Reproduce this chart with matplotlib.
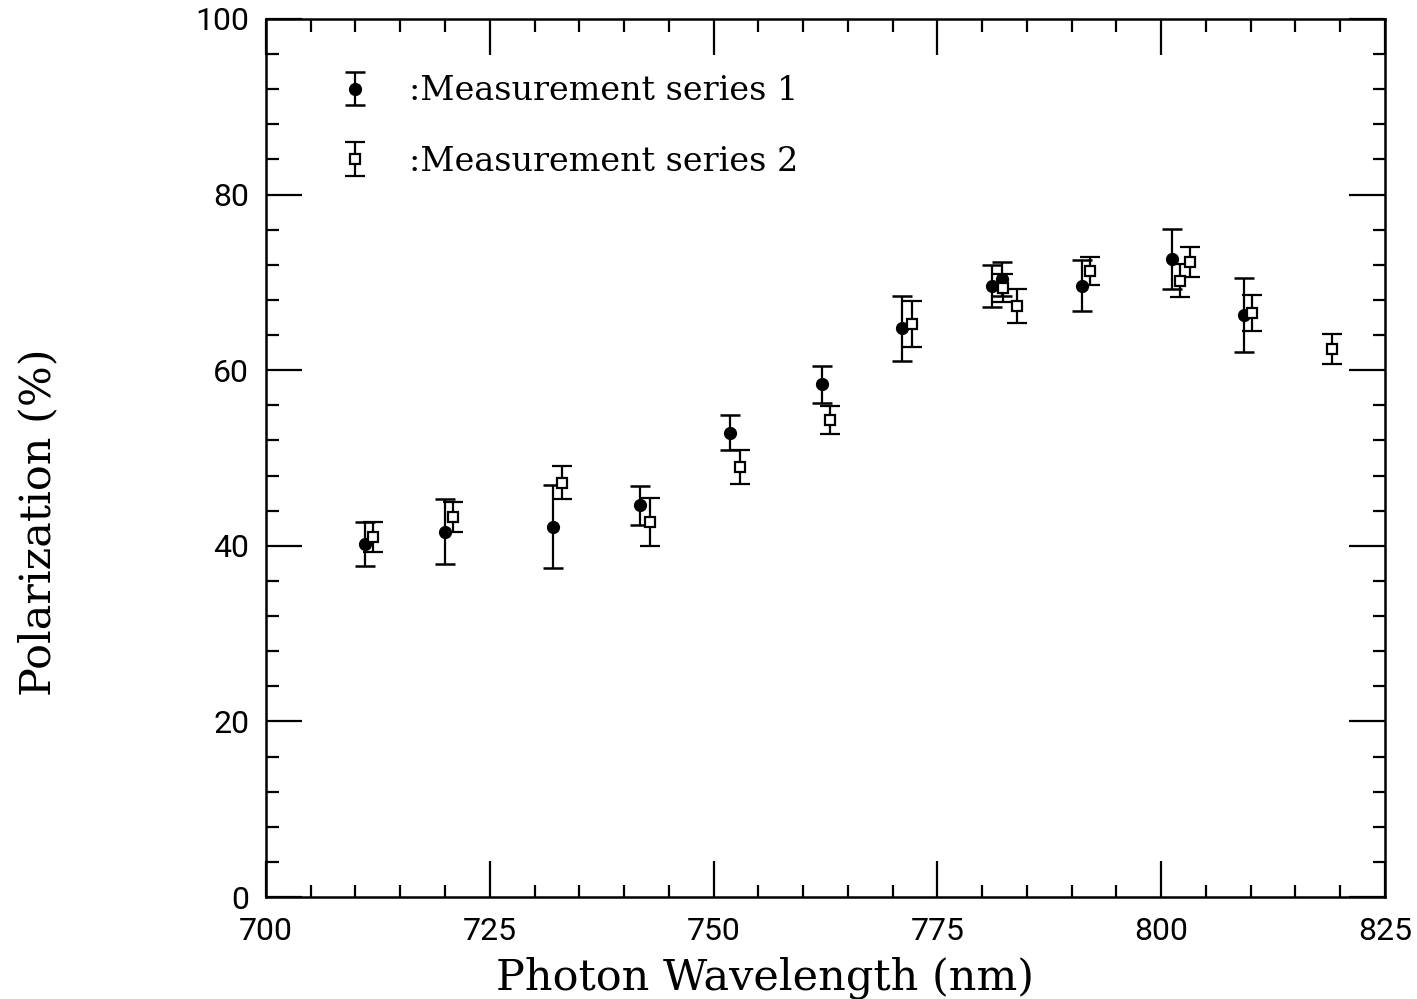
import matplotlib.pyplot as plt
import numpy as np

# measurement series 1 (filled circles)
wl1 = [711.1, 720.0, 732.1, 741.8, 751.8, 762.1, 771.1, 781.1, 782.2, 791.2, 801.2, 809.3]
pol1 = [40.2, 41.6, 42.2, 44.6, 52.9, 58.4, 64.8, 69.6, 70.4, 69.6, 72.7, 66.3]
err1 = [2.5, 3.7, 4.7, 2.2, 2.0, 2.1, 3.7, 2.4, 1.9, 2.9, 3.4, 4.2]

# measurement series 2 (open squares)
wl2 = [711.9, 720.9, 733.1, 742.9, 752.9, 763.0, 772.2, 782.3, 783.9, 792.0, 802.1, 803.2, 810.2, 819.1]
pol2 = [41.0, 43.3, 47.2, 42.7, 49.0, 54.3, 65.3, 69.4, 67.3, 71.3, 70.2, 72.3, 66.5, 62.4]
err2 = [1.7, 1.7, 1.9, 2.7, 1.9, 1.6, 2.6, 1.6, 1.9, 1.6, 1.9, 1.7, 2.05, 1.7]

serif = ['DejaVu Serif']
sans = ['Roboto', 'DejaVu Sans']

fig = plt.figure(figsize=(14.17, 9.99), dpi=100)
ax = fig.add_axes([0.1877, 0.102, 0.7897, 0.879])

e1 = ax.errorbar(wl1, pol1, yerr=err1, fmt='o', color='black', ms=8.5,
                 capsize=7, capthick=1.8, elinewidth=1.6,
                 label=':Measurement series 1')
e2 = ax.errorbar(wl2, pol2, yerr=err2, fmt='s', color='black', mfc='white',
                 mew=1.6, ms=7, capsize=7, capthick=1.8, elinewidth=1.6,
                 label=':Measurement series 2')

ax.set_xlim(700, 825)
ax.set_ylim(0, 100)
ax.set_xticks(np.arange(700, 826, 25))
ax.set_xticks(np.arange(700, 826, 5), minor=True)
ax.set_yticks(np.arange(0, 101, 20))
ax.set_yticks(np.arange(0, 101, 4), minor=True)

ax.tick_params(which='both', direction='in', top=True, right=True, width=1.6)
ax.tick_params(which='major', length=26, labelsize=23)
ax.tick_params(axis='x', which='major', pad=14)
ax.tick_params(axis='y', which='major', pad=12)
ax.tick_params(which='minor', length=9)
for lab in ax.get_xticklabels() + ax.get_yticklabels():
    lab.set_family(sans)
for s in ax.spines.values():
    s.set_linewidth(1.8)

ax.set_xlabel('Photon Wavelength (nm)', fontsize=31, family=serif)
ax.set_ylabel('Polarization (%)', fontsize=31, family=serif)
ax.xaxis.set_label_coords(0.446, -0.068)
ax.yaxis.set_label_coords(-0.185, 0.427)

ax.legend(handles=[e1, e2], loc='upper left', frameon=False,
          prop={'family': serif, 'size': 24}, handlelength=0.6,
          handletextpad=1.3, labelspacing=1.15,
          bbox_to_anchor=(0.044, 0.97))

fig.savefig('out.png', dpi=100)
